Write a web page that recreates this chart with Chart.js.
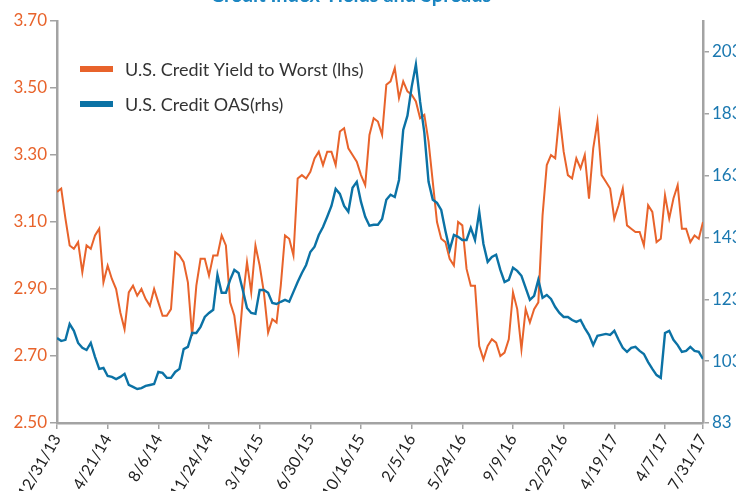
<!DOCTYPE html>
<html><head><meta charset="utf-8">
<script src="https://cdn.jsdelivr.net/npm/chart.js@4/dist/chart.umd.min.js"></script>
<style>html,body{margin:0;padding:0;background:#fff;overflow:hidden}#wrap{width:736px;height:491px;position:relative}</style>
</head><body><div id="wrap"><canvas id="c" width="736" height="491"></canvas></div>
<script>
const chartTitle = 'Credit Index Yields and Spreads';
const dateLabels = ['12/31/13','4/21/14','8/6/14','11/24/14','3/16/15','6/30/15','10/16/15','2/5/16','5/24/16','9/9/16','12/29/16','4/19/17','4/7/17','7/31/17'];
const dateIndex = [0,12,24,36,48,60,72,84,96,108,120,132,144,153];
const leftTicks = [2.50,2.70,2.90,3.10,3.30,3.50,3.70];
const rightTicks = [83,103,123,143,163,183,203];

const yieldToWorst = [3.19,3.20,3.11,3.03,3.02,3.04,2.95,3.03,3.02,3.06,3.08,2.92,2.97,2.93,2.90,2.83,2.78,2.89,2.91,2.88,
2.90,2.87,2.85,2.90,2.86,2.82,2.82,2.84,3.01,3.00,2.98,2.92,2.76,2.91,2.99,2.99,2.94,3.00,3.00,3.06,
3.03,2.86,2.82,2.72,2.87,2.98,2.89,3.03,2.97,2.89,2.77,2.81,2.80,2.91,3.06,3.05,3.00,3.23,3.24,3.23,
3.25,3.29,3.31,3.27,3.31,3.31,3.27,3.37,3.38,3.32,3.30,3.28,3.24,3.21,3.36,3.41,3.40,3.36,3.51,3.52,
3.56,3.47,3.52,3.49,3.48,3.46,3.41,3.42,3.34,3.22,3.10,3.05,3.04,2.99,2.97,3.10,3.09,2.96,2.91,2.91,
2.73,2.69,2.73,2.75,2.74,2.70,2.71,2.75,2.89,2.84,2.72,2.84,2.80,2.84,2.86,3.12,3.27,3.30,3.29,3.42,
3.31,3.24,3.23,3.29,3.26,3.30,3.17,3.32,3.40,3.24,3.22,3.20,3.11,3.15,3.20,3.09,3.08,3.07,3.07,3.03,
3.15,3.13,3.04,3.05,3.18,3.11,3.17,3.21,3.08,3.08,3.04,3.06,3.05,3.10];

const creditOAS = [110.5,109.5,109.9,115.0,112.8,108.9,107.3,106.6,108.9,104.4,100.5,100.8,98.2,97.9,97.2,97.9,98.9,95.3,94.7,94.0,
94.3,95.0,95.3,95.6,99.5,99.2,97.6,97.6,99.5,100.5,106.9,107.6,112.1,112.1,114.1,117.3,118.6,119.6,130.9,125.1,
125.1,129.3,132.5,131.5,126.0,120.2,118.6,118.3,126.0,126.0,125.1,121.8,121.5,122.2,122.8,122.2,125.4,128.6,131.5,134.1,
138.3,140.0,143.8,146.4,149.7,153.2,158.7,157.1,153.2,151.3,159.1,161.0,154.5,149.7,146.8,147.1,147.1,149.0,155.2,156.8,
156.1,161.6,177.8,182.4,191.7,198.9,186.9,176.9,161.0,155.2,154.2,151.9,145.1,139.0,143.8,143.2,142.2,142.2,146.1,142.2,
151.3,140.9,135.1,136.7,137.4,132.5,128.6,129.3,133.2,132.2,130.6,126.7,122.8,124.1,129.3,123.5,124.4,123.1,120.5,118.6,
117.3,117.3,116.3,115.7,116.3,113.7,111.5,108.2,111.2,111.5,111.8,111.5,112.8,109.9,107.3,106.0,107.3,107.6,106.3,105.3,
102.7,100.5,98.5,97.6,112.1,112.8,109.9,108.2,106.0,106.3,107.6,106.3,106.0,103.7];

const ORANGE = '#e8632b', BLUE = '#0b72a5', AXIS = '#a3a3a3';
const FONT = 'Lato, "Open Sans", sans-serif';

const overlay = {
  id: 'overlay',
  afterDraw(chart) {
    const ctx = chart.ctx;
    ctx.save();
    ctx.fillStyle = '#1c86c2';
    ctx.font = 'bold 20px ' + FONT;
    ctx.textAlign = 'center';
    ctx.textBaseline = 'alphabetic';
    ctx.fillText(chartTitle, 351, 2);
    const ds = chart.data.datasets;
    const rows = [ds[1], ds[0]];
    rows.forEach((d, k) => {
      const y = 69 + k * 35;
      ctx.fillStyle = d.borderColor;
      ctx.fillRect(80, y - 3, 33, 6);
      ctx.fillStyle = '#333333';
      ctx.font = '18px ' + FONT;
      ctx.textAlign = 'left';
      ctx.textBaseline = 'middle';
      ctx.fillText(d.label, 125, y + 1);
    });
    ctx.restore();
  }
};

new Chart(document.getElementById('c'), {
  type: 'line',
  data: {
    datasets: [
      { label: 'U.S. Credit OAS(rhs)', data: creditOAS.map((v, i) => ({x: i, y: v})), yAxisID: 'yR',
        borderColor: BLUE, borderWidth: 2.4, pointRadius: 0, tension: 0 },
      { label: 'U.S. Credit Yield to Worst (lhs)', data: yieldToWorst.map((v, i) => ({x: i, y: v})), yAxisID: 'yL',
        borderColor: ORANGE, borderWidth: 2, pointRadius: 0, tension: 0 }
    ]
  },
  options: {
    responsive: false, animation: false, devicePixelRatio: 1,
    layout: { padding: { top: 21, left: 0, right: 0, bottom: 0 } },
    plugins: { legend: { display: false }, tooltip: { enabled: false }, title: { display: false } },
    scales: {
      x: {
        type: 'linear', min: 0, max: dateIndex[dateIndex.length - 1],
        afterBuildTicks: s => { s.ticks = dateIndex.map(v => ({ value: v })); },
        afterFit: s => { s.height = 68; },
        ticks: { autoSkip: false, maxRotation: 60, minRotation: 60, padding: 2, color: '#222',
          font: { family: FONT, size: 16 },
          callback: v => dateLabels[dateIndex.indexOf(v)] },
        grid: { drawOnChartArea: false, drawTicks: true, tickLength: 6, color: AXIS, lineWidth: 1.5 },
        border: { display: true, color: AXIS, width: 2.5 }
      },
      yL: {
        type: 'linear', position: 'left', min: 2.5, max: 3.7,
        afterBuildTicks: s => { s.ticks = leftTicks.map(v => ({ value: v })); },
        afterFit: s => { s.width = 57; },
        ticks: { padding: 3, color: ORANGE, font: { family: FONT, size: 17 }, callback: v => v.toFixed(2) },
        grid: { drawOnChartArea: false, drawTicks: true, tickLength: 7, color: AXIS, lineWidth: 1.5 },
        border: { display: true, color: AXIS, width: 2.5 }
      },
      yR: {
        type: 'linear', position: 'right', min: 83, max: 213,
        afterBuildTicks: s => { s.ticks = rightTicks.map(v => ({ value: v })); },
        afterFit: s => { s.width = 33; },
        ticks: { padding: 3, color: '#1a78b0', font: { family: FONT, size: 17 }, callback: v => String(v) },
        grid: { drawOnChartArea: false, drawTicks: true, tickLength: 6, color: AXIS, lineWidth: 1.5 },
        border: { display: true, color: AXIS, width: 2.5 }
      }
    }
  },
  plugins: [overlay]
});
</script></body></html>
